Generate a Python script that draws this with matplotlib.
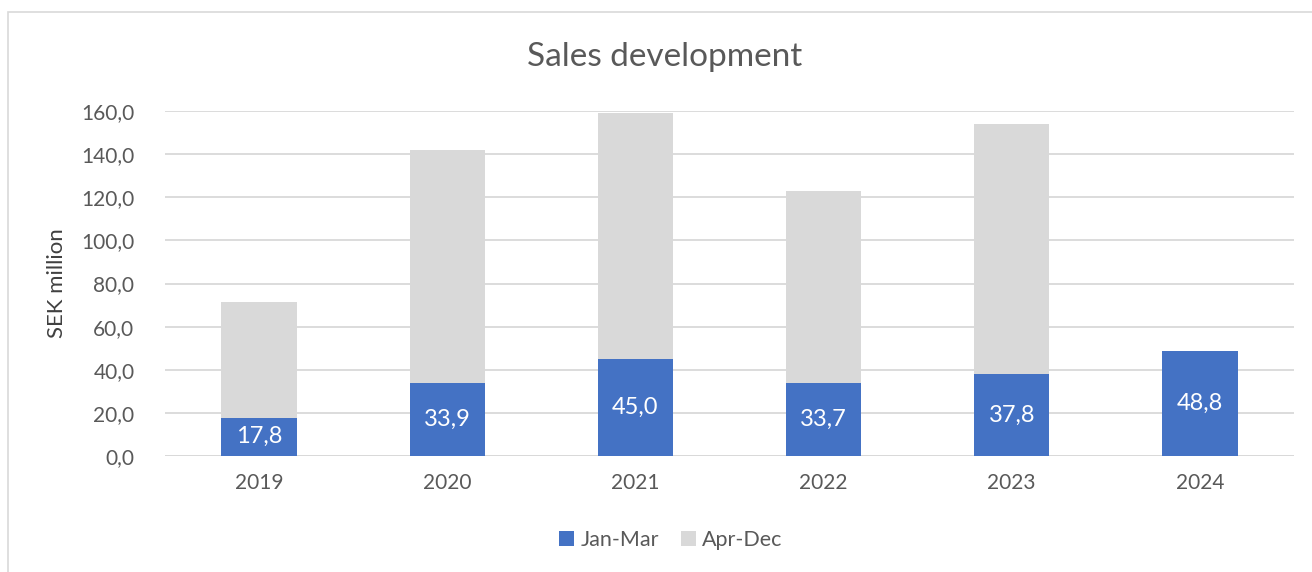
import numpy as np
import matplotlib.pyplot as plt
from matplotlib.patches import Rectangle

plt.rcParams['font.family'] = ['Lato', 'DejaVu Sans']

years = ["2019", "2020", "2021", "2022", "2023", "2024"]
jan_mar = np.array([17.8, 33.9, 45.0, 33.7, 37.8, 48.8])
apr_dec = np.array([53.8, 107.8, 114.0, 89.4, 116.4, 0.0])

blue = "#4472C4"
grey = "#D9D9D9"
text_col = "#595959"

fig = plt.figure(figsize=(13.12, 5.72), dpi=100)
fig.patches.append(Rectangle((8 / 1312, -0.1), 1.1, 1 - 12 / 572 + 0.1,
                             transform=fig.transFigure, fill=False,
                             edgecolor="#D9D9D9", linewidth=1.2))
ax = fig.add_axes([165 / 1312, 1 - 456 / 572, (1294 - 165) / 1312, (456 - 111) / 572])

x = np.arange(len(years))
w = 0.40
ax.bar(x, jan_mar, w, color=blue, label="Jan-Mar", zorder=3)
ax.bar(x, apr_dec, w, bottom=jan_mar, color=grey, label="Apr-Dec", zorder=3)

for xi, v in zip(x, jan_mar):
    ax.text(xi, v / 2, f"{v:.1f}".replace(".", ","), ha="center", va="center",
            color="white", fontsize=17, zorder=4)

ax.set_xlim(-0.5, len(years) - 0.5)
ax.set_ylim(0, 160)
ax.set_yticks(np.arange(0, 161, 20))
ax.set_yticklabels([f"{t:.1f}".replace(".", ",") for t in np.arange(0, 161, 20)])
ax.set_xticks(x)
ax.set_xticklabels(years)
ax.tick_params(axis="both", length=0, labelsize=15, colors=text_col)
ax.tick_params(axis="y", pad=22)
ax.tick_params(axis="x", pad=12)
ax.yaxis.grid(True, color="#D9D9D9", linewidth=1.3, zorder=0)
for s in ax.spines.values():
    s.set_visible(False)
ax.axhline(0, color="#D9D9D9", linewidth=1.3, zorder=2)

ax.set_ylabel("SEK million", fontsize=16, color="#404040", labelpad=10)
fig.text(665 / 1312, 1 - 57 / 572, "Sales development", fontsize=24,
         color="#595959", ha="center", va="center")

fig.legend(loc="center", bbox_to_anchor=(671 / 1312, 1 - 540 / 572), ncol=2,
           frameon=False, fontsize=15.5, labelcolor=text_col,
           handlelength=0.7, handleheight=0.7, handletextpad=0.3, columnspacing=1.0)

fig.savefig("out.png", dpi=100)
